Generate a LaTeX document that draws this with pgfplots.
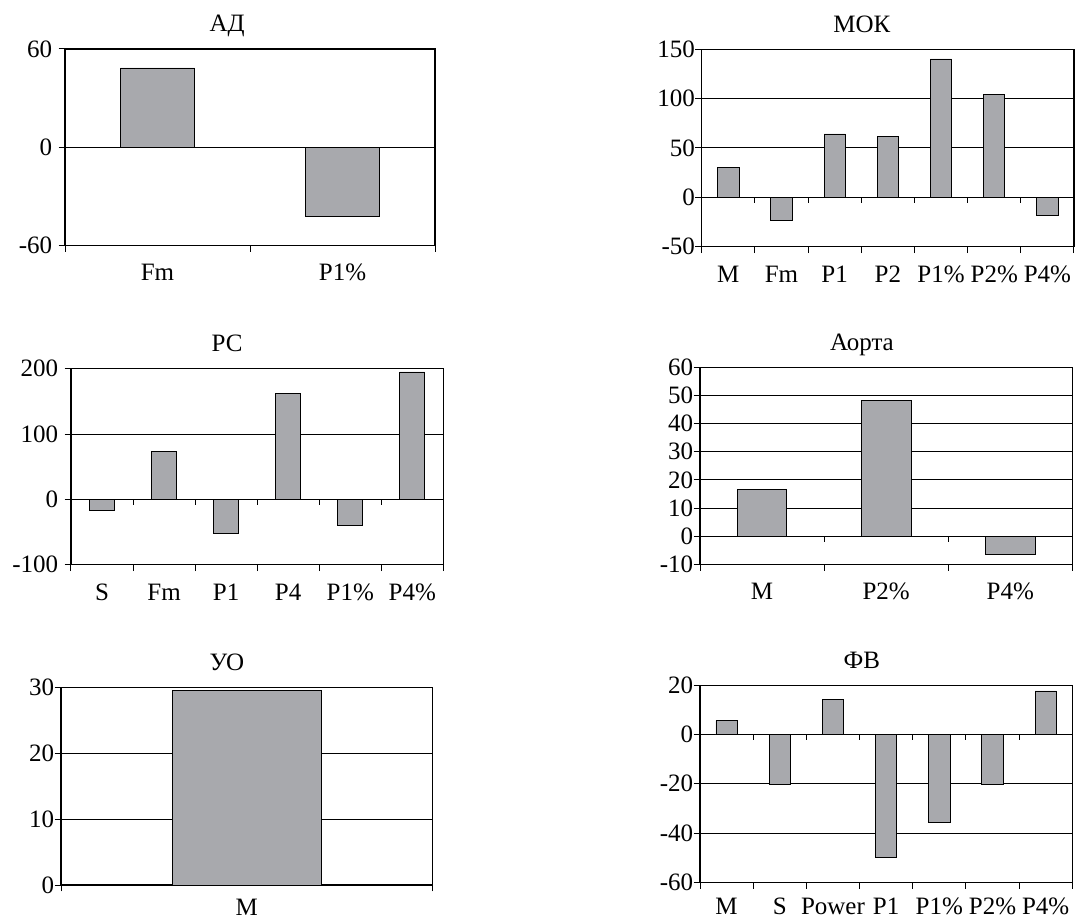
\documentclass[border=0pt]{standalone}
\usepackage{fontspec}
\setmainfont{Liberation Serif}
\usepackage{pgfplots}
\pgfplotsset{compat=1.18}
\definecolor{barg}{RGB}{168,169,173}
\tikzset{zt/.style={line width=0.5pt}}
\pgfplotsset{
  panel/.style={
    scale only axis, anchor=north west,
    width=186.15pt, height=98.5pt,
    axis line style={black, line width=0.6pt},
    ybar, bar width=0.4, bar shift=0pt,
    ymajorgrids, grid style={black, line width=0.5pt},
    tick align=outside, tick pos=left,
    major tick length=3.2pt,
    tick style={black, line width=0.5pt},
    x tick label as interval,
    /pgf/number format/assume math mode=true,
    ticklabel style={font=\fontsize{12.5}{14}\selectfont},
    xticklabel style={anchor=base, yshift=-14.5pt},
    yticklabel style={anchor=east, inner sep=0pt},
    title style={font=\fontsize{12.5}{14}\selectfont, anchor=base, yshift=2.5pt},
    cycle list={{fill=barg, draw=black, line width=0.6pt}},
  },
}
\begin{document}
\begin{tikzpicture}
\useasboundingbox (0,0) rectangle (537.5pt,-459.5pt);

% АД
\begin{axis}[panel, at={(32.5pt,-24.5pt)}, width=185pt, height=98.3pt,
  title={АД}, title style={at={(0.438,1)}},
  xmin=0.5, xmax=2.5, xtick={0.5,1.5,2.5}, xticklabels={Fm,P1\%},
  ymin=-60, ymax=60, ytick={-60,0,60},
  yticklabel style={xshift=-3pt}]
\addplot coordinates {(1,48.4) (2,-42.4)};
\end{axis}

% МОК
\begin{axis}[panel, at={(350.85pt,-24.65pt)}, height=98.7pt,
  title={МОК}, title style={at={(0.43,1)}},
  xmin=0.5, xmax=7.5, xtick={0.5,1.5,...,7.5},
  xticklabels={M,Fm,P1,P2,P1\%,P2\%,P4\%},
  ymin=-50, ymax=150, ytick={-50,0,50,100,150}]
\addplot coordinates {(1,30.4) (2,-23) (3,64.2) (4,61.4) (5,140.2) (6,104.4) (7,-18.2)};
\foreach \b in {1.5,2.5,3.5,4.5,5.5,6.5} {\edef\tmp{\noexpand\draw[zt] (axis cs:\b,0) -- ++(0pt,-2.8pt);}\tmp}
\end{axis}

% РС
\begin{axis}[panel, at={(35.5pt,-184.35pt)}, height=98pt,
  title={РС}, title style={at={(0.419,1)}},
  xmin=0.5, xmax=6.5, xtick={0.5,1.5,...,6.5},
  xticklabels={S,Fm,P1,P4,P1\%,P4\%},
  ymin=-100, ymax=200, ytick={-100,0,100,200},
  yticklabel style={xshift=-3pt}]
\addplot coordinates {(1,-16.3) (2,72.9) (3,-52) (4,162.7) (5,-40.3) (6,195)};
\foreach \b in {1.5,2.5,3.5,4.5,5.5} {\edef\tmp{\noexpand\draw[zt] (axis cs:\b,0) -- ++(0pt,-2.8pt);}\tmp}
\end{axis}

% Аорта
\begin{axis}[panel, at={(350pt,-183.65pt)},
  title={Аорта}, title style={at={(0.435,1)}},
  xmin=0.5, xmax=3.5, xtick={0.5,1.5,2.5,3.5},
  xticklabels={M,P2\%,P4\%},
  ymin=-10, ymax=60, ytick={-10,0,...,60}]
\addplot coordinates {(1,16.5) (2,48.3) (3,-6.6)};
\foreach \b in {1.5,2.5} {\edef\tmp{\noexpand\draw[zt] (axis cs:\b,0) -- ++(0pt,-2.8pt);}\tmp}
\end{axis}

% УО
\begin{axis}[panel, at={(30.5pt,-343.85pt)}, width=185.65pt, height=98.65pt,
  title={УО}, title style={at={(0.447,1)}},
  xmin=0.5, xmax=1.5, xtick={0.5,1.5},
  xticklabels={M}, xticklabel style={yshift=2.5pt},
  ymin=0, ymax=30, ytick={0,10,20,30}]
\addplot coordinates {(1,29.65)};
\end{axis}

% ФВ
\begin{axis}[panel, at={(350pt,-342.65pt)},
  title={ФВ}, title style={at={(0.435,1)}},
  xmin=0.5, xmax=7.5, xtick={0.5,1.5,...,7.5},
  xticklabels={M,S,Power,P1,P1\%,P2\%,P4\%}, xticklabel style={yshift=1.5pt},
  ymin=-60, ymax=20, ytick={-60,-40,-20,0,20}]
\addplot coordinates {(1,5.7) (2,-20.2) (3,14.1) (4,-49.8) (5,-35.8) (6,-20.2) (7,17.7)};
\foreach \b in {1.5,2.5,3.5,4.5,5.5,6.5} {\edef\tmp{\noexpand\draw[zt] (axis cs:\b,0) -- ++(0pt,-2.8pt);}\tmp}
\end{axis}
\end{tikzpicture}
\end{document}
